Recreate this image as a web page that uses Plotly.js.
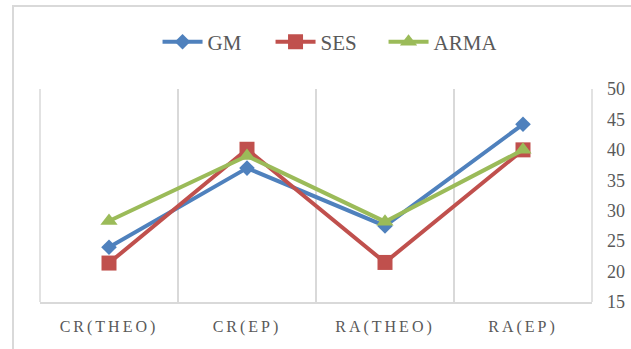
<!DOCTYPE html>
<html>
<head>
<meta charset="utf-8">
<script src="https://cdn.plot.ly/plotly-3.0.1.min.js"></script>
<style>
  html, body { margin:0; padding:0; background:#fff; }
  #wrap { position:relative; width:631px; height:349px; overflow:hidden; }
  #chart { position:absolute; left:0; top:0; width:631px; height:349px; }
  #frame { position:absolute; left:12px; top:5px; width:640px; height:360px;
           border-left:2px solid #d9d9d9; border-top:2px solid #d9d9d9; pointer-events:none; }
  #chart .xtick text { letter-spacing:3px; }
</style>
</head>
<body>
<div id="wrap">
  <div id="chart"></div>
  <div id="frame"></div>
</div>
<script>
const categories = ["CR(THEO)", "CR(EP)", "RA(THEO)", "RA(EP)"];
const gm   = [24.0, 37.0, 27.5, 44.2];
const ses  = [21.4, 40.1, 21.5, 40.0];
const arma = [28.3, 39.0, 28.2, 40.0];
const yTicks = [15, 20, 25, 30, 35, 40, 45, 50];

const font = "'Liberation Serif', 'DejaVu Serif', serif";
const txt = "#595959";

function series(name, y, color, symbol, size) {
  return {
    x: categories, y: y, name: name, type: "scatter", mode: "lines+markers",
    line: { color: color, width: 4 },
    marker: { symbol: symbol, size: size, color: color }
  };
}

const data = [
  series("GM", gm, "#4f81bd", "diamond", 12),
  series("SES", ses, "#c0504d", "square", 15),
  series("ARMA", arma, "#9bbb59", "triangle-up", 15)
];

const layout = {
  width: 631, height: 349,
  margin: { l: 40, r: 39, t: 89, b: 47, pad: 0 },
  paper_bgcolor: "#fff", plot_bgcolor: "#fff",
  showlegend: true,
  legend: {
    orientation: "h", x: 0.52, xanchor: "center", xref: "paper",
    y: 1.22, yanchor: "middle",
    font: { family: font, size: 21, color: txt },
    itemwidth: 40, tracegroupgap: 0, entrywidth: 58
  },
  xaxis: {
    type: "category", range: [-0.5, 3.5], fixedrange: true,
    tickson: "boundaries", ticks: "", showgrid: true, gridcolor: "#d9d9d9", gridwidth: 1.5,
    showline: true, linecolor: "#d9d9d9", linewidth: 1.5,
    tickfont: { family: font, size: 16, color: txt },
    ticklabelstandoff: 9, zeroline: false
  },
  yaxis: {
    side: "right", range: [15, 50], tickvals: yTicks, ticktext: yTicks.map(String),
    showgrid: false, zeroline: false, showline: false, ticks: "",
    tickfont: { family: font, size: 18, color: txt },
    ticklabelstandoff: 14, fixedrange: true
  },
  shapes: [
    { type: "line", xref: "paper", yref: "paper", x0: 0, x1: 0, y0: 0, y1: 1,
      line: { color: "#d9d9d9", width: 1.5 } },
    { type: "line", xref: "paper", yref: "paper", x0: 1, x1: 1, y0: 0, y1: 1,
      line: { color: "#d9d9d9", width: 1.5 } }
  ]
};

Plotly.newPlot("chart", data, layout, { displayModeBar: false, staticPlot: true });
</script>
</body>
</html>
